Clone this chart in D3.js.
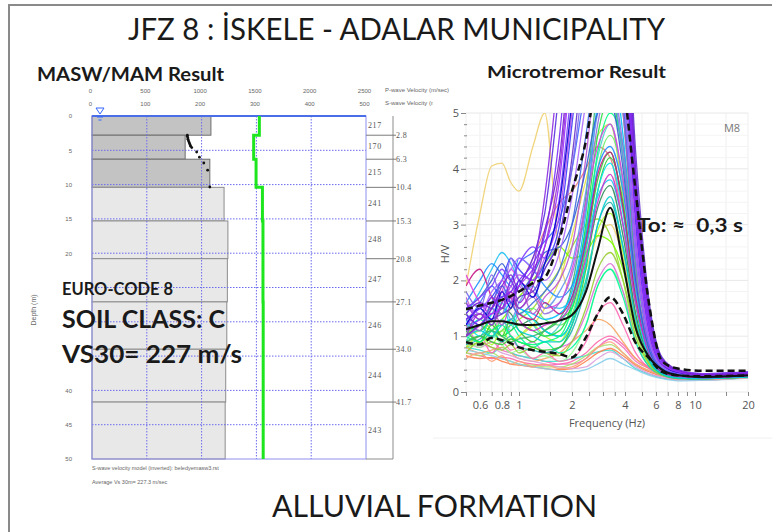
<!DOCTYPE html>
<html>
<head>
<meta charset="utf-8">
<script src="https://cdn.jsdelivr.net/npm/d3@7"></script>
<style>
  body { margin: 0; background: #fff; }
  svg { display: block; }
</style>
</head>
<body>
<div id="chart"></div>
<script>
// ---- MASW / MAM profile data ----
const layerTop    = [0, 2.8, 6.3, 10.4, 15.3, 20.8, 27.1, 34.0, 41.7];
const layerBottom = [2.8, 6.3, 10.4, 15.3, 20.8, 27.1, 34.0, 41.7, 50];
const vsLayer     = [217, 170, 215, 241, 248, 247, 246, 244, 243];
const vpLayer     = [1527, 1475, 1497, 1555, 1560, 1560, 1562, 1562, 1562];
const dispDepth   = [2.8, 3.0, 3.2, 3.4, 3.6, 3.8, 4.0, 4.2, 4.4, 4.6, 5.25, 6.0, 6.85, 7.9, 10.35];
const dispVel     = [174, 174, 175, 175, 176, 177, 178, 179, 180, 182, 191, 196, 204, 211, 215];
const depthGrid   = [5, 10, 15, 20, 25, 30, 35, 40, 45];
const depthLabels = [0, 5, 10, 15, 20, 40, 45, 50];   // 25-35 sit under the overlay text
const vsTicks     = [0, 100, 200, 300, 400, 500];
const vpTicks     = [0, 500, 1000, 1500, 2000, 2500];

// ---- H/V data ----
const freq     = [0.5, 0.6, 0.7, 0.8, 0.9, 1.0, 1.2, 1.4, 1.7, 2.0, 2.4, 2.8, 3.3, 3.9, 4.6, 5.5, 6.5, 8, 11, 20];
const meanHV   = [1.13, 1.2, 1.27, 1.27, 1.24, 1.21, 1.2, 1.23, 1.28, 1.38, 1.8, 2.55, 3.3, 2.3, 1.15, 0.62, 0.4, 0.3, 0.27, 0.3];
const upperHV  = [1.48, 1.55, 1.6, 1.65, 1.72, 1.8, 1.95, 2.05, 2.75, 3.6, 4.5, 5.8, 7, 5.6, 3.6, 1.55, 0.55, 0.42, 0.38, 0.38];
const lowerHV  = [0.89, 0.85, 0.97, 0.93, 0.87, 0.8, 0.75, 0.72, 0.68, 0.62, 0.98, 1.4, 1.7, 1.4, 0.88, 0.6, 0.36, 0.3, 0.28, 0.3];

const windowColors = [
  "#ff66aa", "#f070c0", "#40e0d0", "#a8e070", "#f4a460", "#ff7f50", "#87ceeb", "#dda0dd",
  "#ffa07a", "#98fb98", "#ff69b4", "#da70d6", "#00fa9a", "#9acd32", "#adff2f", "#20b2aa",
  "#e0e040", "#f0d070", "#e88080", "#99dd33", "#7fff00", "#2e8b57", "#33cc33", "#66ee66",
  "#32cd32", "#48d1cc", "#00e5ee", "#22dd44", "#00ff7f", "#3cb371", "#00ced1", "#20c0f0",
  "#1e90ff", "#00bfff", "#c71585", "#cc33cc", "#e040e0", "#6495ed", "#9370db", "#ba55d3",
  "#2f5fd0", "#4169e1", "#4466ff", "#3d3dff", "#aa66ff", "#7b68ee", "#b44cf0", "#6633cc",
  "#8040ff", "#0000cd", "#5a2de0", "#9932cc", "#9b30ff", "#8a2be2", "#7b2ff7", "#7a1fd6"
];
const windowHV = [
  [0.7, 0.65, 0.6, 0.62, 0.6, 0.55, 0.5, 0.48, 0.5, 0.55, 0.7, 0.9, 1.0, 0.85, 0.6, 0.45, 0.35, 0.27, 0.25, 0.28],
  [0.9, 0.8, 0.9, 0.75, 0.7, 0.65, 0.6, 0.55, 0.5, 0.5, 0.6, 0.8, 0.95, 0.8, 0.55, 0.42, 0.33, 0.26, 0.25, 0.28],
  [0.8, 0.75, 0.7, 0.8, 0.7, 0.65, 0.6, 0.55, 0.55, 0.6, 0.65, 0.72, 0.75, 0.6, 0.42, 0.32, 0.25, 0.22, 0.22, 0.26],
  [0.7, 0.65, 0.7, 0.6, 0.55, 0.5, 0.48, 0.45, 0.45, 0.5, 0.65, 0.8, 0.85, 0.7, 0.5, 0.38, 0.3, 0.24, 0.24, 0.27],
  [0.8, 0.7, 0.75, 0.8, 0.7, 0.6, 0.55, 0.6, 0.7, 0.9, 1.1, 1.3, 1.2, 0.9, 0.6, 0.42, 0.32, 0.25, 0.24, 0.27],
  [0.65, 0.6, 0.62, 0.55, 0.5, 0.48, 0.45, 0.42, 0.4, 0.42, 0.55, 0.7, 0.78, 0.65, 0.48, 0.36, 0.28, 0.22, 0.22, 0.26],
  [0.75, 0.7, 0.65, 0.6, 0.55, 0.5, 0.45, 0.42, 0.38, 0.36, 0.4, 0.5, 0.6, 0.5, 0.4, 0.3, 0.24, 0.2, 0.21, 0.25],
  [0.9, 0.85, 0.8, 0.7, 0.65, 0.6, 0.55, 0.5, 0.45, 0.42, 0.45, 0.6, 0.72, 0.6, 0.45, 0.33, 0.27, 0.22, 0.22, 0.26],
  [0.6, 0.7, 0.55, 0.65, 0.5, 0.55, 0.45, 0.5, 0.42, 0.45, 0.6, 0.8, 0.9, 0.7, 0.5, 0.38, 0.3, 0.23, 0.23, 0.26],
  [0.95, 0.8, 1.0, 0.85, 0.7, 0.75, 0.6, 0.65, 0.55, 0.7, 1.2, 1.9, 2.2, 1.8, 1.0, 0.48, 0.31, 0.25, 0.24, 0.27],
  [0.8, 1.0, 0.7, 0.9, 0.75, 0.8, 0.6, 0.7, 0.55, 0.6, 0.9, 1.4, 1.6, 1.2, 0.7, 0.42, 0.3, 0.24, 0.24, 0.27],
  [1.2, 0.9, 1.1, 1.3, 1.0, 0.8, 0.9, 0.7, 0.8, 0.9, 1.4, 2.0, 2.3, 1.8, 0.9, 0.45, 0.3, 0.24, 0.24, 0.27],
  [1.0, 1.3, 1.1, 0.9, 1.2, 1.0, 0.8, 0.9, 0.7, 0.8, 1.2, 1.9, 2.2, 1.7, 0.9, 0.45, 0.3, 0.24, 0.24, 0.27],
  [0.7, 0.9, 0.8, 0.75, 0.85, 0.7, 0.8, 0.7, 0.65, 0.9, 1.5, 2.2, 2.5, 2.0, 1.1, 0.5, 0.3, 0.25, 0.24, 0.27],
  [0.8, 1.0, 0.85, 1.1, 0.9, 1.0, 1.2, 1.0, 0.9, 1.3, 2.0, 2.9, 3.2, 2.5, 1.3, 0.55, 0.32, 0.26, 0.25, 0.28],
  [0.85, 0.95, 1.1, 0.9, 1.0, 0.8, 0.75, 0.7, 0.8, 1.1, 1.9, 3.0, 3.4, 2.6, 1.3, 0.55, 0.32, 0.25, 0.24, 0.27],
  [1.0, 1.1, 1.2, 1.0, 0.9, 1.0, 1.2, 1.5, 2.0, 2.8, 3.8, 4.6, 4.8, 3.5, 1.6, 0.6, 0.34, 0.27, 0.25, 0.28],
  [1.9, 3.2, 4.05, 4.1, 3.75, 3.6, 4.4, 5.0, 2.4, 1.8, 2.2, 2.8, 3.0, 2.4, 1.3, 0.55, 0.33, 0.26, 0.25, 0.28],
  [1.1, 1.2, 1.4, 1.5, 1.7, 1.9, 2.4, 2.9, 3.4, 3.6, 4.0, 4.4, 4.2, 3.0, 1.4, 0.55, 0.33, 0.26, 0.25, 0.28],
  [0.8, 0.9, 1.0, 1.1, 1.2, 1.3, 1.5, 1.8, 2.2, 2.6, 3.0, 3.1, 2.8, 2.0, 1.0, 0.5, 0.32, 0.25, 0.24, 0.27],
  [1.0, 1.2, 1.1, 1.3, 1.5, 1.7, 2.0, 2.3, 2.6, 2.4, 2.5, 2.8, 2.7, 2.2, 1.2, 0.55, 0.33, 0.26, 0.25, 0.28],
  [1.3, 1.4, 1.2, 1.5, 1.4, 1.2, 1.3, 1.1, 1.0, 1.3, 2.3, 3.3, 3.7, 2.8, 1.4, 0.6, 0.34, 0.27, 0.25, 0.28],
  [0.9, 1.0, 0.9, 0.85, 0.95, 0.9, 0.8, 0.75, 0.8, 1.2, 2.2, 3.6, 4.2, 3.4, 1.6, 0.6, 0.32, 0.25, 0.24, 0.27],
  [1.1, 1.2, 1.0, 1.1, 1.3, 1.4, 1.5, 1.3, 1.2, 1.4, 2.5, 4.0, 4.6, 3.8, 1.8, 0.65, 0.33, 0.26, 0.25, 0.28],
  [1.1, 0.9, 1.2, 1.0, 1.3, 1.1, 0.9, 1.1, 1.3, 1.5, 2.6, 3.8, 4.3, 3.3, 1.6, 0.6, 0.33, 0.26, 0.25, 0.28],
  [0.9, 1.2, 0.95, 1.3, 1.1, 1.4, 1.2, 1.0, 1.2, 1.7, 2.9, 4.2, 4.8, 3.7, 1.8, 0.65, 0.34, 0.27, 0.25, 0.28],
  [1.3, 1.0, 1.4, 1.6, 1.2, 1.5, 1.3, 1.1, 1.0, 1.3, 2.3, 3.6, 4.1, 3.2, 1.6, 0.62, 0.34, 0.27, 0.25, 0.28],
  [1.2, 1.1, 1.3, 1.0, 1.1, 1.2, 1.1, 1.0, 1.1, 1.6, 3.0, 4.6, 5.3, 4.2, 2.0, 0.7, 0.35, 0.27, 0.25, 0.28],
  [1.0, 0.9, 1.1, 1.2, 1.0, 0.9, 0.85, 0.9, 1.0, 1.5, 2.8, 4.3, 5.0, 4.4, 2.3, 0.8, 0.38, 0.28, 0.25, 0.28],
  [0.9, 1.0, 1.1, 1.0, 0.9, 0.95, 1.0, 1.1, 1.3, 1.9, 3.5, 5.5, 6.5, 5.0, 2.2, 0.7, 0.36, 0.27, 0.25, 0.28],
  [1.0, 1.1, 1.0, 1.2, 1.3, 1.1, 1.0, 0.9, 0.9, 1.2, 2.0, 3.0, 3.5, 2.6, 1.3, 0.55, 0.32, 0.25, 0.24, 0.27],
  [1.4, 1.8, 2.2, 2.5, 2.3, 2.0, 1.8, 1.6, 1.5, 1.7, 2.6, 3.5, 3.8, 3.0, 1.6, 0.6, 0.35, 0.27, 0.25, 0.28],
  [1.6, 2.0, 2.3, 2.1, 1.9, 2.4, 2.2, 1.9, 1.7, 1.9, 2.8, 4.0, 4.4, 3.6, 1.9, 0.7, 0.38, 0.3, 0.26, 0.3],
  [1.2, 1.3, 1.5, 1.4, 1.6, 1.5, 1.4, 1.3, 1.4, 1.8, 3.2, 5.2, 6.0, 4.6, 2.0, 0.7, 0.35, 0.27, 0.25, 0.28],
  [1.9, 2.2, 1.7, 1.5, 1.8, 1.4, 1.3, 1.6, 1.4, 1.7, 2.7, 3.9, 4.3, 3.3, 1.7, 0.68, 0.36, 0.28, 0.26, 0.29],
  [1.0, 1.2, 1.5, 2.0, 1.7, 1.3, 1.1, 1.2, 1.3, 1.6, 2.4, 3.4, 3.9, 3.0, 1.6, 0.7, 0.38, 0.3, 0.26, 0.3],
  [2.1, 1.6, 1.4, 1.8, 2.2, 2.0, 1.8, 1.5, 1.6, 2.2, 3.4, 4.4, 4.8, 3.8, 2.0, 0.8, 0.4, 0.3, 0.27, 0.3],
  [1.1, 1.5, 1.2, 1.7, 1.3, 1.6, 1.9, 1.5, 1.8, 2.3, 3.6, 5.0, 5.5, 4.2, 2.0, 0.72, 0.38, 0.3, 0.27, 0.3],
  [1.3, 1.1, 1.6, 1.4, 1.9, 1.5, 1.7, 1.4, 1.6, 2.1, 3.3, 4.8, 5.6, 4.4, 2.1, 0.75, 0.4, 0.3, 0.27, 0.3],
  [1.7, 1.3, 1.5, 1.2, 1.6, 1.9, 1.4, 1.7, 2.0, 2.6, 4.2, 6.0, 6.5, 5.0, 2.4, 0.85, 0.42, 0.32, 0.28, 0.31],
  [1.5, 1.7, 2.0, 2.3, 2.0, 1.8, 2.1, 2.5, 2.6, 3.0, 4.0, 5.0, 5.2, 4.0, 2.0, 0.75, 0.4, 0.32, 0.27, 0.3],
  [1.4, 1.2, 1.6, 1.9, 1.6, 1.4, 1.6, 1.8, 2.2, 3.0, 4.6, 6.0, 6.4, 5.2, 2.5, 0.9, 0.43, 0.32, 0.28, 0.31],
  [1.2, 1.6, 1.9, 1.7, 2.0, 2.3, 2.5, 2.7, 3.1, 4.0, 5.5, 6.5, 6.8, 5.5, 2.6, 0.85, 0.42, 0.32, 0.27, 0.3],
  [1.3, 1.5, 1.7, 2.0, 2.4, 2.2, 2.0, 2.3, 3.0, 4.8, 7, 8, 8, 6.5, 3.0, 1.0, 0.48, 0.33, 0.28, 0.3],
  [1.6, 1.4, 1.8, 2.0, 2.2, 2.4, 2.2, 2.0, 2.5, 3.5, 5.2, 6.5, 7, 5.5, 2.5, 0.9, 0.45, 0.34, 0.28, 0.3],
  [1.8, 1.5, 2.1, 1.7, 2.4, 2.0, 1.7, 2.2, 2.8, 4.0, 6.0, 7.5, 7.8, 6.0, 2.8, 1.0, 0.46, 0.34, 0.29, 0.32],
  [1.2, 1.4, 1.3, 1.6, 1.9, 2.1, 2.0, 2.4, 3.2, 5.0, 7, 8, 8.5, 6.5, 2.8, 1.0, 0.48, 0.35, 0.3, 0.32],
  [1.0, 1.2, 1.3, 1.4, 1.5, 1.7, 1.8, 2.2, 2.8, 4.2, 6.5, 8, 8.5, 8.0, 4.3, 1.6, 0.62, 0.4, 0.33, 0.36],
  [1.5, 1.7, 1.9, 2.2, 2.0, 2.3, 2.6, 2.4, 3.5, 5.5, 7.5, 8.5, 8.5, 7.0, 3.4, 1.2, 0.55, 0.38, 0.33, 0.36],
  [1.2, 1.5, 1.3, 1.8, 1.5, 2.0, 1.7, 2.3, 3.4, 5.2, 7.5, 8.5, 8.5, 6.8, 3.2, 1.1, 0.5, 0.35, 0.3, 0.33],
  [1.4, 1.2, 1.5, 1.8, 1.6, 1.9, 2.4, 3.2, 5.5, 8.0, 9, 9, 9, 8.0, 4.0, 1.5, 0.6, 0.38, 0.3, 0.35],
  [1.0, 1.4, 1.2, 1.6, 1.8, 1.5, 1.9, 2.6, 4.0, 6.2, 8, 9, 9, 7.4, 3.7, 1.35, 0.56, 0.38, 0.32, 0.35],
  [1.1, 1.3, 1.4, 1.5, 1.7, 1.9, 2.2, 2.6, 3.8, 6.0, 8, 9, 9, 7.0, 3.2, 1.1, 0.5, 0.36, 0.3, 0.33],
  [1.6, 1.3, 1.7, 1.5, 2.0, 1.6, 2.2, 3.5, 6.0, 8.5, 9, 9, 9, 7.2, 3.5, 1.25, 0.54, 0.37, 0.31, 0.34],
  [1.3, 1.5, 1.6, 1.7, 1.8, 2.0, 2.3, 2.8, 4.6, 7.0, 9, 9, 9, 7.5, 3.6, 1.3, 0.55, 0.38, 0.32, 0.35],
  [1.4, 1.6, 1.5, 1.9, 2.1, 1.8, 2.1, 2.9, 4.2, 6.5, 8.5, 9, 9, 7.8, 3.9, 1.4, 0.58, 0.39, 0.31, 0.34]
];
const hvTicks     = [0, 1, 2, 3, 4, 5];
const hvMinor     = [0.2, 0.4, 0.6, 0.8, 1.2, 1.4, 1.6, 1.8, 2.2, 2.4, 2.6, 2.8, 3.2, 3.4, 3.6, 3.8, 4.2, 4.4, 4.6, 4.8];
const freqTicks   = [0.5, 0.6, 0.7, 0.8, 0.9, 1, 1.5, 2, 2.5, 3, 3.5, 4, 5, 6, 7, 8, 9, 10, 15, 20];
const freqLabels  = [0.6, 0.8, 1, 2, 4, 6, 8, 10, 20];

const width = 772, height = 532;
const head = "Lato, 'Open Sans', sans-serif";

let svg = d3.select("#chart").append("svg")
  .attr("width", width)
  .attr("height", height);

// page frame
svg.append("path")
  .attr("d", "M9,532 V5 H772")
  .attr("fill", "none")
  .attr("stroke", "#8a8a8a")
  .attr("stroke-width", 2);

// ================= left: MASW / MAM =================
let depthScale = d3.scaleLinear().domain([0, 50]).range([116, 459]);
let vsScale = d3.scaleLinear().domain([0, 500]).range([92, 366]);
let vpScale = d3.scaleLinear().domain([0, 2500]).range([92, 366]);

let layers = vsLayer.map((v, i) => ({ vs: v, vp: vpLayer[i], top: layerTop[i], bottom: layerBottom[i], i: i }));

// velocity bars
svg.selectAll("rect.layer")
  .data(layers)
  .enter()
  .append("rect")
  .attr("class", "layer")
  .attr("x", vsScale(0))
  .attr("y", d => depthScale(d.top))
  .attr("width", d => vsScale(d.vs) - vsScale(0))
  .attr("height", d => depthScale(d.bottom) - depthScale(d.top))
  .attr("fill", d => d.i < 3 ? "#c3c3c3" : "#e8e8e8")
  .attr("stroke", d => d.i < 3 ? "#6e6e6e" : "#8c8c8c")
  .attr("stroke-width", 1);

// dotted grid
svg.selectAll("line.hgrid")
  .data(depthGrid)
  .enter()
  .append("line")
  .attr("x1", vsScale(0)).attr("x2", vsScale(500))
  .attr("y1", d => depthScale(d)).attr("y2", d => depthScale(d))
  .attr("stroke", "#6a6af0")
  .attr("stroke-dasharray", "1.5,1.5");

svg.selectAll("line.vgrid")
  .data(vsTicks.slice(1, -1))
  .enter()
  .append("line")
  .attr("x1", d => vsScale(d)).attr("x2", d => vsScale(d))
  .attr("y1", depthScale(0)).attr("y2", depthScale(50))
  .attr("stroke", "#6a6af0")
  .attr("stroke-dasharray", "1.5,1.5");

// plot frame
svg.append("rect")
  .attr("x", vsScale(0)).attr("y", depthScale(0))
  .attr("width", vsScale(500) - vsScale(0))
  .attr("height", depthScale(50) - depthScale(0))
  .attr("fill", "none")
  .attr("stroke", "#9090f0");
svg.append("line")
  .attr("x1", vsScale(0)).attr("x2", vsScale(500))
  .attr("y1", depthScale(0)).attr("y2", depthScale(0))
  .attr("stroke", "#4a6ee8")
  .attr("stroke-width", 2);

// water table mark
svg.append("path")
  .attr("d", "M96,108 L104,108 L100,114 Z")
  .attr("fill", "none").attr("stroke", "#3366ff");
svg.append("path")
  .attr("d", "M97,117 H103 M98.5,120 H101.5")
  .attr("stroke", "#3366ff");

// P-wave profile (green)
let vpPoints = [];
layers.forEach(d => { vpPoints.push([d.vp, d.top]); vpPoints.push([d.vp, d.bottom]); });
svg.append("path")
  .attr("d", d3.line().x(d => vpScale(d[0])).y(d => depthScale(d[1]))(vpPoints))
  .attr("fill", "none")
  .attr("stroke", "#1ee61e")
  .attr("stroke-width", 3);

// dispersion points
svg.selectAll("circle.disp")
  .data(dispDepth)
  .enter()
  .append("circle")
  .attr("cx", (d, i) => vsScale(dispVel[i]))
  .attr("cy", d => depthScale(d))
  .attr("r", 1.4)
  .attr("fill", "#111");

// side column with layer velocities
let colX0 = vsScale(500), colX1 = 393;
svg.append("line").attr("x1", colX1).attr("x2", colX1)
  .attr("y1", depthScale(0)).attr("y2", depthScale(50)).attr("stroke", "#8c8c8c");
svg.append("line").attr("x1", colX0).attr("x2", colX1)
  .attr("y1", depthScale(50)).attr("y2", depthScale(50)).attr("stroke", "#8c8c8c");
svg.selectAll("line.bound")
  .data(layerBottom.slice(0, -1))
  .enter()
  .append("line")
  .attr("x1", colX0).attr("x2", colX1 + 3)
  .attr("y1", d => depthScale(d)).attr("y2", d => depthScale(d))
  .attr("stroke", "#7a7a7a");
svg.selectAll("text.bound")
  .data(layerBottom.slice(0, -1))
  .enter()
  .append("text")
  .text(d => d3.format(".1f")(d))
  .attr("x", colX1 + 3)
  .attr("y", d => depthScale(d) + 3)
  .style("font-family", "'Liberation Serif', serif")
  .style("font-size", "8px")
  .style("letter-spacing", "0.4px")
  .style("fill", "#555");
svg.selectAll("text.vs")
  .data(layers)
  .enter()
  .append("text")
  .text(d => d.vs)
  .attr("x", colX0 + 2)
  .attr("y", d => (depthScale(d.top) + depthScale(d.bottom)) / 2 + 2)
  .style("font-family", "'Liberation Serif', serif")
  .style("font-size", "8px")
  .style("letter-spacing", "0.6px")
  .style("fill", "#555");

// axes (labels only)
let tinyAxis = g => {
  g.select(".domain").remove();
  g.selectAll("text").style("font-size", "6px").style("fill", "#666").style("font-family", "'Liberation Sans', sans-serif");
};
svg.append("g")
  .attr("transform", "translate(-2,93)")
  .call(d3.axisTop(vpScale).tickValues(vpTicks).tickSize(0).tickPadding(0).tickFormat(d3.format("d")))
  .call(tinyAxis);
svg.append("g")
  .attr("transform", "translate(-2,106)")
  .call(d3.axisTop(vsScale).tickValues(vsTicks).tickSize(0).tickPadding(0).tickFormat(d3.format("d")))
  .call(tinyAxis);
svg.append("g")
  .attr("transform", "translate(" + vsScale(0) + ",0)")
  .call(d3.axisLeft(depthScale).tickValues(depthLabels).tickSize(0).tickPadding(20).tickFormat(d3.format("d")))
  .call(tinyAxis);

svg.append("text").text("P-wave Velocity (m/sec)")
  .attr("x", 385).attr("y", 92)
  .style("font-size", "6px").style("fill", "#666").style("font-family", "'Liberation Sans', sans-serif");
svg.append("text").text("S-wave Velocity (m/sec)")
  .attr("x", 385).attr("y", 105)
  .style("font-size", "6px").style("fill", "#666").style("font-family", "'Liberation Sans', sans-serif");
svg.append("text").text("Depth (m)")
  .attr("transform", "translate(36,310) rotate(-90)")
  .style("text-anchor", "middle")
  .style("font-size", "7px").style("fill", "#666").style("font-family", "'Liberation Sans', sans-serif");
svg.append("text").text("S-wave velocity model (inverted): beledyemasw3.rst")
  .attr("x", 92).attr("y", 470)
  .style("font-size", "5.5px").style("fill", "#666").style("font-family", "'Liberation Sans', sans-serif");
svg.append("text").text("Average Vs 30m= 227.3 m/sec")
  .attr("x", 92).attr("y", 484)
  .style("font-size", "5.5px").style("fill", "#666").style("font-family", "'Liberation Sans', sans-serif");

// ================= right: microtremor H/V =================
svg.append("rect")
  .attr("x", 433).attr("y", 98).attr("width", 339).attr("height", 340)
  .attr("fill", "#fff");
svg.append("line").attr("x1", 433).attr("x2", 772).attr("y1", 438).attr("y2", 438)
  .attr("stroke", "#f0f0f0");

let xF = d3.scaleLog().domain([0.5, 20]).range([466, 748]);
let yH = d3.scaleLinear().domain([0, 5]).range([392, 113]);

svg.selectAll("line.fgrid")
  .data(freqTicks)
  .enter()
  .append("line")
  .attr("x1", d => xF(d)).attr("x2", d => xF(d))
  .attr("y1", yH(0)).attr("y2", yH(5))
  .attr("stroke", "#efefef");
svg.selectAll("line.hvgrid")
  .data(hvTicks.concat(hvMinor))
  .enter()
  .append("line")
  .attr("x1", xF(0.5)).attr("x2", xF(20))
  .attr("y1", d => yH(d)).attr("y2", d => yH(d))
  .attr("stroke", d => Number.isInteger(d) ? "#e8e8e8" : "#f4f4f4");

svg.append("clipPath").attr("id", "hvclip")
  .append("rect")
  .attr("x", xF(0.5)).attr("y", yH(5))
  .attr("width", xF(20) - xF(0.5)).attr("height", yH(0) - yH(5));

let hvLine = d3.line()
  .x((d, i) => xF(freq[i]))
  .y(d => yH(d))
  .curve(d3.curveMonotoneX);

let curves = svg.append("g").attr("clip-path", "url(#hvclip)");
curves.selectAll("path.win")
  .data(windowHV)
  .enter()
  .append("path")
  .attr("d", hvLine)
  .attr("fill", "none")
  .attr("stroke", (d, i) => windowColors[i])
  .attr("stroke-width", 1.3)
  .attr("opacity", 0.9);

[upperHV, lowerHV].forEach(s => {
  curves.append("path")
    .attr("d", hvLine(s))
    .attr("fill", "none")
    .attr("stroke", "#111")
    .attr("stroke-width", 2.5)
    .attr("stroke-dasharray", "7,4");
});
curves.append("path")
  .attr("d", hvLine(meanHV))
  .attr("fill", "none")
  .attr("stroke", "#111")
  .attr("stroke-width", 2);

// H/V axes
let hvAxis = g => {
  g.select(".domain").remove();
  g.selectAll("line").attr("stroke", "#888");
  g.selectAll("text").style("font-size", "11px").style("fill", "#555").style("font-family", "'Open Sans', sans-serif");
};
svg.append("g")
  .attr("transform", "translate(" + xF(0.5) + ",0)")
  .call(d3.axisLeft(yH).tickValues(hvTicks).tickSize(5).tickPadding(2).tickFormat(d3.format("d")))
  .call(hvAxis);
svg.append("g")
  .attr("transform", "translate(" + (xF(0.5) + 1) + ",0)")
  .call(d3.axisLeft(yH).tickValues(hvMinor).tickSize(3).tickFormat(""))
  .call(hvAxis);
svg.append("g")
  .attr("transform", "translate(0," + yH(0) + ")")
  .call(d3.axisBottom(xF).tickValues(freqTicks).tickSize(4).tickPadding(5)
    .tickFormat(d => freqLabels.includes(d) ? d : ""))
  .call(hvAxis);

svg.append("text").text("Frequency (Hz)")
  .attr("x", 607).attr("y", 427)
  .style("text-anchor", "middle")
  .style("font-size", "11px").style("fill", "#555").style("font-family", "'Open Sans', sans-serif");
svg.append("text").text("H/V")
  .attr("transform", "translate(449,254) rotate(-90)")
  .style("text-anchor", "middle")
  .style("font-size", "11px").style("fill", "#555").style("font-family", "'Open Sans', sans-serif");
svg.append("text").text("M8")
  .attr("x", 732).attr("y", 132)
  .style("text-anchor", "middle")
  .style("font-size", "11px").style("fill", "#777").style("font-family", "'Open Sans', sans-serif");

// ================= titles and notes =================
function label(txt, x, y, size, weight, len) {
  svg.append("text").text(txt)
    .attr("x", x).attr("y", y)
    .attr("textLength", len)
    .attr("lengthAdjust", "spacingAndGlyphs")
    .style("white-space", "pre")
    .style("font-family", head)
    .style("font-size", size + "px")
    .style("font-weight", weight)
    .style("fill", "#1a1a1a");
}
label("JFZ 8 : İSKELE - ADALAR MUNICIPALITY", 128, 40, 31, 400, 537);
label("MASW/MAM Result", 37, 81, 19.5, 700, 187);
label("Microtremor Result", 487, 78, 17.5, 700, 179);
label("EURO-CODE 8", 62, 295, 16.5, 700, 111);
label("SOIL CLASS: C", 62, 328, 25, 700, 163);
label("VS30= 227 m/s", 62, 363, 25, 700, 180);
label("To: ≈  0,3 s", 637, 232, 19.5, 700, 106);
label("ALLUVIAL FORMATION", 272, 517, 30, 400, 325);
</script>
</body>
</html>
